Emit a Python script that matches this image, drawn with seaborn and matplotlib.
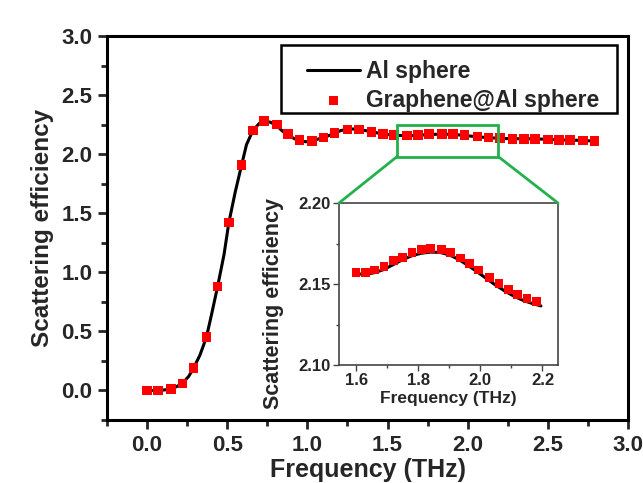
import matplotlib as mpl
mpl.use('Agg')
import matplotlib.pyplot as plt
from matplotlib.patches import Rectangle, ConnectionPatch
from matplotlib.ticker import MultipleLocator, FormatStrFormatter
import seaborn as sns

# main panel: Graphene@Al sphere (markers)
gr_freq = [0.00, 0.07, 0.15, 0.22, 0.29, 0.37, 0.44, 0.51, 0.59, 0.66,
           0.73, 0.81, 0.88, 0.95, 1.03, 1.10, 1.17, 1.25, 1.32, 1.40,
           1.47, 1.54, 1.62, 1.69, 1.76, 1.84, 1.91, 1.98, 2.06, 2.13,
           2.20, 2.28, 2.35, 2.42, 2.50, 2.57, 2.64, 2.72, 2.79]
gr_eff = [0.00, 0.00, 0.01, 0.06, 0.19, 0.45, 0.88, 1.42, 1.91, 2.20,
          2.28, 2.25, 2.17, 2.12, 2.11, 2.14, 2.18, 2.21, 2.21, 2.19,
          2.17, 2.16, 2.157, 2.161, 2.168, 2.172, 2.169, 2.160, 2.149, 2.141,
          2.136, 2.13, 2.13, 2.13, 2.125, 2.12, 2.12, 2.115, 2.11]

# main panel: Al sphere (line)
al_freq = [0.00, 0.07, 0.15, 0.18, 0.22, 0.26, 0.29, 0.33, 0.37, 0.40,
           0.44, 0.48, 0.51, 0.55, 0.59, 0.62, 0.66, 0.70, 0.73, 0.77,
           0.81, 0.84, 0.88, 0.92, 0.95, 0.99, 1.03, 1.06, 1.10, 1.14,
           1.17, 1.21, 1.25, 1.28, 1.32, 1.36, 1.40, 1.47, 1.54, 1.62,
           1.69, 1.76, 1.84, 1.91, 1.98, 2.06, 2.13, 2.20, 2.28, 2.35,
           2.42, 2.50, 2.57, 2.64, 2.72, 2.80]
al_eff = [0.00, 0.00, 0.01, 0.03, 0.06, 0.12, 0.19, 0.30, 0.45, 0.63,
          0.88, 1.15, 1.42, 1.68, 1.91, 2.08, 2.20, 2.26, 2.28, 2.27,
          2.24, 2.20, 2.16, 2.13, 2.115, 2.105, 2.11, 2.125, 2.14, 2.16,
          2.18, 2.20, 2.21, 2.213, 2.21, 2.20, 2.19, 2.17, 2.16, 2.156,
          2.159, 2.166, 2.170, 2.167, 2.158, 2.147, 2.139, 2.134, 2.13, 2.13,
          2.13, 2.125, 2.12, 2.12, 2.115, 2.11]

# inset (zoom 1.6 - 2.2 THz)
in_gr_freq = [1.60, 1.63, 1.66, 1.69, 1.72, 1.75, 1.78, 1.81, 1.84, 1.875,
              1.905, 1.935, 1.965, 1.995, 2.03, 2.06, 2.09, 2.12, 2.15, 2.18]
in_gr_eff = [2.157, 2.157, 2.1587, 2.1608, 2.1643, 2.1666, 2.1695, 2.1711, 2.1717, 2.1711,
             2.1695, 2.166, 2.1625, 2.1587, 2.1542, 2.1501, 2.1464, 2.1437, 2.141, 2.1392]
in_al_freq = [1.60, 1.63, 1.66, 1.69, 1.72, 1.75, 1.78, 1.81, 1.84, 1.87, 1.90,
              1.93, 1.96, 1.99, 2.02, 2.05, 2.08, 2.11, 2.14, 2.17, 2.195]
in_al_eff = [2.1563, 2.1560, 2.1570, 2.1590, 2.1620, 2.1650, 2.1675, 2.1690, 2.1697, 2.1695, 2.1680,
             2.1652, 2.1615, 2.1575, 2.1533, 2.1492, 2.1455, 2.1423, 2.1397, 2.1378, 2.1365]

sns.set_style('white')
plt.rcParams['font.family'] = ['Liberation Sans', 'DejaVu Sans']
plt.rcParams['font.weight'] = 'bold'

green = '#22b14c'

fig = plt.figure(figsize=(6.43, 4.83), dpi=100)
ax = fig.add_axes([0.1664, 0.1304, 0.8103, 0.7951])

sns.lineplot(x=al_freq, y=al_eff, ax=ax, color='black', lw=2.2,
             label='Al sphere', zorder=2)
sns.scatterplot(x=gr_freq, y=gr_eff, ax=ax, marker='s', color='#ff0000',
                s=48, edgecolor='none', label='Graphene@Al sphere', zorder=3)

ax.set_xlim(-0.25, 3.0)
ax.set_ylim(-0.25, 3.0)
ax.xaxis.set_major_locator(MultipleLocator(0.5))
ax.xaxis.set_minor_locator(MultipleLocator(0.25))
ax.yaxis.set_major_locator(MultipleLocator(0.5))
ax.yaxis.set_minor_locator(MultipleLocator(0.25))
ax.xaxis.set_major_formatter(FormatStrFormatter('%.1f'))
ax.yaxis.set_major_formatter(FormatStrFormatter('%.1f'))
ax.tick_params(which='major', direction='out', length=6.5, width=2,
               labelsize=16, pad=4, left=True, bottom=True)
ax.tick_params(which='minor', direction='out', length=4.5, width=2,
               left=True, bottom=True)
for s in ax.spines.values():
    s.set_linewidth(2.2)
    s.set_color('black')
ax.set_xlabel('Frequency (THz)', fontsize=18, fontweight='bold', labelpad=1.5)
ax.set_ylabel('Scattering efficiency', fontsize=17.5, fontweight='bold', labelpad=5)

# legend: box drawn separately so the padding is wider on the left
ax.add_patch(Rectangle((0.334, 0.7995), 0.645, 0.1771, transform=ax.transAxes,
                       facecolor='white', edgecolor='black', lw=1.8, zorder=5))
leg = ax.legend(loc='upper left', bbox_to_anchor=(0.384, 0.938),
                borderaxespad=0, frameon=False,
                fontsize=16.5, handlelength=2.3, handletextpad=0.25,
                borderpad=0, labelspacing=0.25)
leg.set_zorder(6)
for t in leg.get_texts():
    t.set_fontweight('bold')

# zoom box
ax.add_patch(Rectangle((1.56, 1.98), 0.63, 0.27, fill=False,
                       edgecolor=green, lw=2, zorder=4))

ins = fig.add_axes([0.5272, 0.2443, 0.3406, 0.3354])
sns.lineplot(x=in_al_freq, y=in_al_eff, ax=ins, color='black', lw=2.2, zorder=2)
sns.scatterplot(x=in_gr_freq, y=in_gr_eff, ax=ins, marker='s', color='#ff0000',
                s=40, edgecolor='none', zorder=3)
ins.set_xlim(1.545, 2.25)
ins.set_ylim(2.10, 2.20)
ins.xaxis.set_major_locator(MultipleLocator(0.2))
ins.xaxis.set_minor_locator(MultipleLocator(0.1))
ins.yaxis.set_major_locator(MultipleLocator(0.05))
ins.yaxis.set_minor_locator(MultipleLocator(0.025))
ins.xaxis.set_major_formatter(FormatStrFormatter('%.1f'))
ins.yaxis.set_major_formatter(FormatStrFormatter('%.2f'))
ins.tick_params(which='major', direction='out', length=4, width=1,
                labelsize=12, pad=2, left=True, bottom=True, color='#444444')
ins.tick_params(which='minor', direction='out', length=2.5, width=1,
                left=True, bottom=True, color='#444444')
for s in ins.spines.values():
    s.set_linewidth(1.2)
    s.set_color('#444444')
ins.set_xlabel('Frequency (THz)', fontsize=12.5, fontweight='bold', labelpad=2)
ins.set_ylabel('Scattering efficiency', fontsize=15.5, fontweight='bold')
ins.yaxis.set_label_coords(-0.25, 0.38)

for xa, xb in [((1.56, 1.98), (0, 1)), ((2.19, 1.98), (1, 1))]:
    con = ConnectionPatch(xyA=xa, coordsA=ax.transData, xyB=xb,
                          coordsB=ins.transAxes, color=green, lw=2)
    fig.add_artist(con)

fig.savefig('out.png', dpi=100, facecolor='white')
